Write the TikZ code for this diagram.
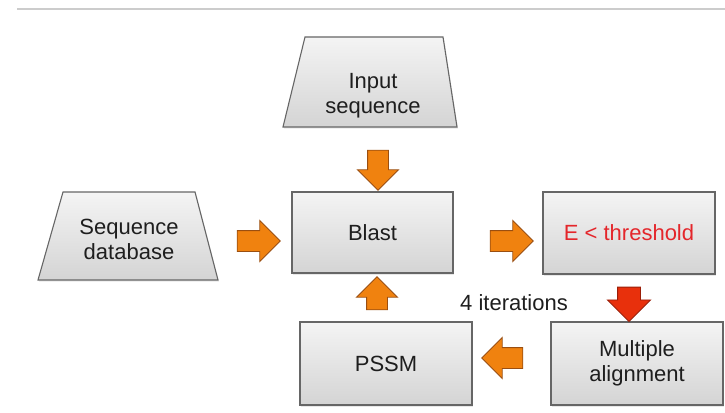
\documentclass[tikz,border=0pt]{standalone}
\usepackage{fontspec}
\setmainfont{Liberation Sans}
\usetikzlibrary{shapes.arrows,shadows}
\definecolor{boxtop}{HTML}{F4F4F4}
\definecolor{boxbot}{HTML}{D4D4D4}
\definecolor{boxline}{HTML}{666666}
\definecolor{txt}{HTML}{1E1E1E}
\definecolor{orfill}{HTML}{F0820F}
\definecolor{orline}{HTML}{9A4E10}
\definecolor{rdfill}{HTML}{E8300C}
\definecolor{rdline}{HTML}{9A1E08}
\definecolor{rdtxt}{HTML}{E4262B}
\definecolor{rule}{HTML}{CCCCCC}
\begin{document}
\begin{tikzpicture}[x=1pt,y=-1pt,
  every node/.style={font=\fontsize{22}{25}\selectfont, text=txt},
  box/.style={rectangle, top color=boxtop, bottom color=boxbot, draw=boxline,
    line width=1.1pt, drop shadow={opacity=0.18,shadow xshift=1pt,shadow yshift=-1.5pt},
    align=center, inner sep=0pt, outer sep=0pt},
  trap/.style={top color=boxtop, bottom color=boxbot, draw=boxline, line width=1.1pt,
    drop shadow={opacity=0.18,shadow xshift=1pt,shadow yshift=-1.5pt}},
  lbl/.style={align=center, inner sep=0pt},
  arr/.style={single arrow, fill=orfill, draw=orline, line width=0.9pt,
    minimum height=#1, minimum width=40pt, single arrow head extend=10pt,
    inner sep=10pt, outer sep=0pt},
  redarr/.style={arr=#1, fill=rdfill, draw=rdline, minimum width=42pt,
    single arrow head extend=10pt, inner sep=11pt}
]
\useasboundingbox (0,0) rectangle (725,412);
\draw[rule, line width=2pt] (17,9) -- (725,9);

% trapezoids
\path[trap] (305,37) -- (443,37) -- (457,127) -- (283,127) -- cycle;
\node[lbl] (inp) at (373,95.5) {Input\\sequence};
\path[trap] (63,192) -- (195,192) -- (218,280) -- (38,280) -- cycle;
\node[lbl] (db) at (129,239.5) {Sequence\\database};

% boxes
\node[box, minimum width=161pt, minimum height=81pt] (blast) at (372.5,232.5) {Blast};
\node[box, minimum width=172pt, minimum height=82pt, text=rdtxt] (thr) at (629,233) {E < threshold};
\node[box, minimum width=172pt, minimum height=83pt] (pssm) at (386,363.5) {PSSM};
\node[box, minimum width=172pt, minimum height=83pt] (ma) at (637,363.5) {Multiple\\alignment};

% block arrows
\node[arr=40pt, shape border rotate=270] (a1) at (378,165) {};
\node[arr=43pt] (a2) at (253.5,241) {};
\node[arr=43pt] (a3) at (506.5,241) {};
\node[redarr=33pt, shape border rotate=270] (a4) at (629,298.5) {};
\node[arr=41pt, shape border rotate=180] (a5) at (507.5,358) {};
\node[arr=33pt, shape border rotate=90] (a6) at (377,298.5) {};

\node[lbl] (iter) at (514,303) {4 iterations};
\end{tikzpicture}
\end{document}
